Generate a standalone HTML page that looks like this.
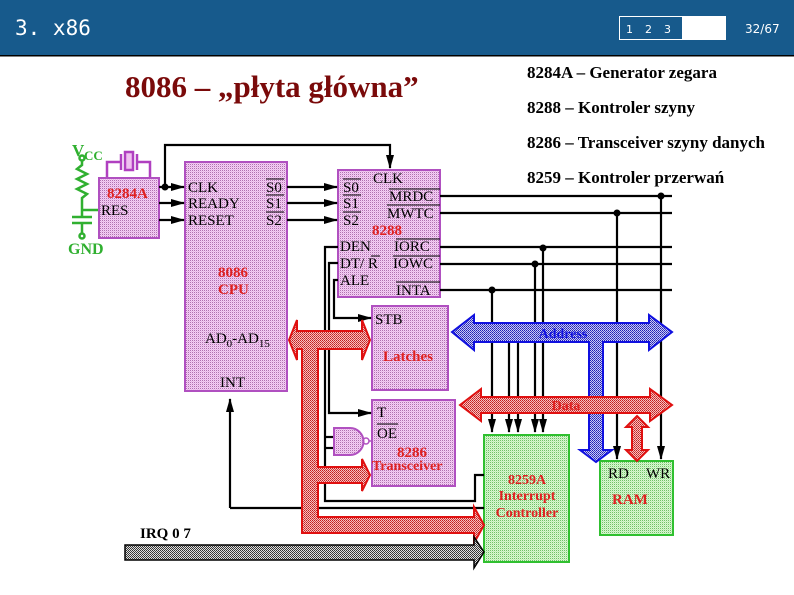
<!DOCTYPE html>
<html><head><meta charset="utf-8"><style>
html,body{margin:0;padding:0;background:#fff;width:794px;height:595px;overflow:hidden}
svg{display:block}
.s{font-family:"Liberation Serif",serif}
</style></head><body>
<svg width="794" height="595" viewBox="0 0 794 595" xmlns="http://www.w3.org/2000/svg">
<defs>
<pattern id="pk" width="2" height="2" patternUnits="userSpaceOnUse"><rect width="2" height="2" fill="#f4d0f4"/><rect width="1" height="1" fill="#b070b0"/><rect x="1" y="1" width="1" height="1" fill="#e8b8e8"/></pattern>
<pattern id="gr" width="2" height="2" patternUnits="userSpaceOnUse"><rect width="2" height="2" fill="#d8f8d0"/><rect width="1" height="1" fill="#70c068"/><rect x="1" y="1" width="1" height="1" fill="#c0ecb8"/></pattern>
<pattern id="rd" width="2" height="2" patternUnits="userSpaceOnUse"><rect width="2" height="2" fill="#f8c0c0"/><rect width="1" height="1" fill="#c02020"/><rect x="1" y="1" width="1" height="1" fill="#d04040"/></pattern>
<pattern id="bl" width="2" height="2" patternUnits="userSpaceOnUse"><rect width="2" height="2" fill="#c8c8f8"/><rect width="1" height="1" fill="#2020b0"/><rect x="1" y="1" width="1" height="1" fill="#4040c0"/></pattern>
<pattern id="gy" width="2" height="2" patternUnits="userSpaceOnUse"><rect width="2" height="2" fill="#e0e0e0"/><rect width="1" height="1" fill="#303030"/><rect x="1" y="1" width="1" height="1" fill="#404040"/></pattern>
<marker id="ab" markerWidth="14" markerHeight="10" refX="13" refY="5" orient="auto" markerUnits="userSpaceOnUse"><path d="M0,1 L14,5 L0,9 Z" fill="#000"/></marker>
</defs>

<rect x="0" y="0" width="794" height="56" fill="#175a8c"/>
<rect x="0" y="55" width="794" height="1.5" fill="#000"/>
<text x="15" y="35" font-family="DejaVu Sans Mono, monospace" font-size="21" fill="#fff">3. x86</text>
<rect x="619.5" y="16.5" width="106" height="23" fill="#175a8c" stroke="#fff"/>
<rect x="682" y="16" width="44" height="24" fill="#fff"/>
<text x="626" y="33" font-family="DejaVu Sans, sans-serif" font-size="11" fill="#fff">1</text>
<text x="645" y="33" font-family="DejaVu Sans, sans-serif" font-size="11" fill="#fff">2</text>
<text x="664" y="33" font-family="DejaVu Sans, sans-serif" font-size="11" fill="#fff">3</text>
<text x="745" y="33" font-family="DejaVu Sans, sans-serif" font-size="12" fill="#fff">32/67</text>

<text x="125" y="97" class="s" font-size="31" font-weight="bold" fill="#7a0a0a">8086 – „płyta główna”</text>
<g class="s" font-size="17" font-weight="bold" fill="#000">
<text x="527" y="78">8284A – Generator zegara</text>
<text x="527" y="113">8288 – Kontroler szyny</text>
<text x="527" y="148">8286 – Transceiver szyny danych</text>
<text x="527" y="183">8259 – Kontroler przerwań</text>
</g>

<g stroke="#30b030" stroke-width="2.5" fill="none">
<circle cx="82" cy="158" r="2.5"/>
<polyline points="82,161 82,165 77,169 87,174 77,179 87,184 77,189 87,194 82,198 82,217"/>
<line x1="82" y1="210" x2="99" y2="210"/>
<line x1="72" y1="217" x2="92" y2="217"/>
<line x1="72" y1="223" x2="92" y2="223"/>
<line x1="82" y1="223" x2="82" y2="233"/>
<circle cx="82" cy="236" r="2.5"/>
</g>
<text x="72" y="156" class="s" font-size="17" font-weight="bold" fill="#30b030">V</text>
<text x="84" y="160" class="s" font-size="13" font-weight="bold" fill="#30b030">CC</text>
<text x="68" y="254" class="s" font-size="16" font-weight="bold" fill="#30b030">GND</text>

<g stroke="#b040c0" stroke-width="2.5" fill="none">
<polyline points="107,178 107,162 121,162"/>
<polyline points="137,162 150,162 150,178"/>
<line x1="121" y1="154" x2="121" y2="170"/>
<line x1="137" y1="154" x2="137" y2="170"/>
<rect x="125" y="152" width="8" height="18" fill="#f0c0f0"/>
</g>

<g stroke="#b050c0" stroke-width="2">
<rect x="99" y="178" width="60" height="60" fill="url(#pk)"/>
<rect x="185" y="162" width="102" height="229" fill="url(#pk)"/>
<rect x="338" y="170" width="102" height="127" fill="url(#pk)"/>
<rect x="372" y="306" width="76" height="84" fill="url(#pk)"/>
<rect x="372" y="400" width="83" height="86" fill="url(#pk)"/>
</g>
<g stroke="#30c030" stroke-width="2">
<rect x="484" y="435" width="85" height="127" fill="url(#gr)"/>
<rect x="600" y="461" width="73" height="74" fill="url(#gr)"/>
</g>

<g stroke="#000" stroke-width="2.2" fill="none">
<polyline points="165,187 165,145 390,145 390,168" marker-end="url(#ab)"/>
<line x1="159" y1="187" x2="184" y2="187" marker-end="url(#ab)"/>
<line x1="159" y1="203" x2="184" y2="203" marker-end="url(#ab)"/>
<line x1="159" y1="220" x2="184" y2="220" marker-end="url(#ab)"/>
<line x1="287" y1="187" x2="337" y2="187" marker-end="url(#ab)"/>
<line x1="287" y1="203" x2="337" y2="203" marker-end="url(#ab)"/>
<line x1="287" y1="220" x2="337" y2="220" marker-end="url(#ab)"/>
<line x1="440" y1="196" x2="672" y2="196"/>
<line x1="440" y1="213" x2="672" y2="213"/>
<line x1="440" y1="247" x2="672" y2="247"/>
<line x1="440" y1="264" x2="672" y2="264"/>
<line x1="440" y1="290" x2="672" y2="290"/>
<polyline points="338,280 334,280 334,318 371,318" marker-end="url(#ab)"/>
<polyline points="338,263 329,263 329,413 371,413" marker-end="url(#ab)"/>
<polyline points="338,247 325,247 325,501 475,501 475,475 484,475"/>
<line x1="325" y1="437" x2="334" y2="437"/>
<line x1="325" y1="448" x2="334" y2="448"/>
<polyline points="230,508 484,508"/>
<line x1="230" y1="508" x2="230" y2="399" marker-end="url(#ab)"/>
<line x1="492" y1="290" x2="492" y2="432" marker-end="url(#ab)"/>
<line x1="509" y1="342" x2="509" y2="432" marker-end="url(#ab)"/>
<line x1="518" y1="342" x2="518" y2="432" marker-end="url(#ab)"/>
<line x1="535" y1="264" x2="535" y2="432" marker-end="url(#ab)"/>
<line x1="543" y1="247" x2="543" y2="432" marker-end="url(#ab)"/>
<line x1="617" y1="213" x2="617" y2="459" marker-end="url(#ab)"/>
<line x1="661" y1="196" x2="661" y2="459" marker-end="url(#ab)"/>
</g>
<g fill="#000">
<circle cx="165" cy="187" r="3.5"/>
<circle cx="661" cy="196" r="3.5"/><circle cx="617" cy="213" r="3.5"/>
<circle cx="543" cy="248" r="3.5"/><circle cx="535" cy="264" r="3.5"/>
<circle cx="492" cy="290" r="3.5"/>
</g>

<path d="M334,428 L350,428 A13,13 0 0 1 350,455 L334,455 Z" fill="url(#pk)" stroke="#b050c0" stroke-width="2"/>
<circle cx="366" cy="441" r="3" fill="none" stroke="#b050c0" stroke-width="1.5"/>
<line x1="369" y1="441" x2="372" y2="441" stroke="#b050c0" stroke-width="1.5"/>

<path d="M289,340 L297,320 L297,331 L362,331 L362,320 L370,340 L362,360 L362,349 L318,349 L318,467 L362,467 L362,459 L370,475 L362,491 L362,483 L318,483 L318,517 L474,517 L474,507 L484,525 L474,543 L474,533 L302,533 L302,349 L297,349 L297,360 Z" fill="url(#rd)" stroke="#e01010" stroke-width="2"/>
<path d="M452,332 L474,315 L474,323 L649,323 L649,315 L672,332 L649,350 L649,342 L603,342 L603,450 L612,450 L596,462 L580,450 L589,450 L589,342 L474,342 L474,350 Z" fill="url(#bl)" stroke="#1010e0" stroke-width="2"/>
<path d="M460,405 L481,389 L481,397 L650,397 L650,389 L672,405 L650,421 L650,413 L481,413 L481,421 Z" fill="url(#rd)" stroke="#e01010" stroke-width="2"/>
<path d="M637,416 L648,427 L642,427 L642,450 L648,450 L637,461 L626,450 L632,450 L632,427 L626,427 Z" fill="url(#rd)" stroke="#e01010" stroke-width="2"/>
<path d="M125,545 L474,545 L474,537 L484,552 L474,568 L474,560 L125,560 Z" fill="url(#gy)" stroke="#000" stroke-width="1.5"/>

<g class="s" font-size="15" fill="#000">
<text x="188" y="192">CLK</text>
<text x="188" y="208">READY</text>
<text x="188" y="225">RESET</text>
<text x="266" y="192">S0</text><text x="266" y="208">S1</text><text x="266" y="225">S2</text>
<text x="343" y="192">S0</text><text x="343" y="208">S1</text><text x="343" y="225">S2</text>
<text x="373" y="183">CLK</text>
<text x="389" y="201">MRDC</text>
<text x="387" y="218">MWTC</text>
<text x="340" y="251">DEN</text>
<text x="340" y="268">DT/ R</text>
<text x="340" y="285">ALE</text>
<text x="394" y="251">IORC</text>
<text x="393" y="268">IOWC</text>
<text x="396" y="295">INTA</text>
<text x="205" y="343">AD<tspan font-size="11" dy="4">0</tspan><tspan dy="-4">-AD</tspan><tspan font-size="11" dy="4">15</tspan></text>
<text x="220" y="387">INT</text>
<text x="375" y="324">STB</text>
<text x="377" y="417">T</text>
<text x="377" y="438">OE</text>
<text x="608" y="478">RD</text>
<text x="646" y="478">WR</text>
<text x="101" y="215">RES</text>
</g>
<g stroke="#000" stroke-width="1">
<line x1="266" y1="179" x2="284" y2="179"/><line x1="266" y1="195" x2="284" y2="195"/><line x1="266" y1="212" x2="284" y2="212"/>
<line x1="343" y1="179" x2="361" y2="179"/><line x1="343" y1="195" x2="361" y2="195"/><line x1="343" y1="212" x2="361" y2="212"/>
<line x1="389" y1="189" x2="440" y2="189"/><line x1="387" y1="205" x2="440" y2="205"/>
<line x1="396" y1="239" x2="440" y2="239"/><line x1="393" y1="256" x2="440" y2="256"/>
<line x1="396" y1="282" x2="440" y2="282"/><line x1="371" y1="256" x2="380" y2="256"/>
<line x1="377" y1="424" x2="398" y2="424"/>
</g>
<g class="s" font-weight="bold" fill="#e02020">
<text x="107" y="198" font-size="15">8284A</text>
<text x="218" y="277" font-size="15">8086</text>
<text x="218" y="294" font-size="15">CPU</text>
<text x="372" y="235" font-size="15">8288</text>
<text x="383" y="361" font-size="15">Latches</text>
<text x="397" y="457" font-size="15">8286</text>
<text x="372" y="470" font-size="14">Transceiver</text>
<text x="527" y="484" font-size="14" text-anchor="middle">8259A</text>
<text x="527" y="500" font-size="14" text-anchor="middle">Interrupt</text>
<text x="527" y="517" font-size="14" text-anchor="middle">Controller</text>
<text x="612" y="504" font-size="15">RAM</text>
<text x="563" y="338" font-size="14" fill="#1010e0" text-anchor="middle">Address</text>
<text x="566" y="410" font-size="14" text-anchor="middle">Data</text>
</g>
<text x="140" y="538" class="s" font-size="15" font-weight="bold" fill="#000">IRQ 0 7</text>
</svg>
</body></html>
